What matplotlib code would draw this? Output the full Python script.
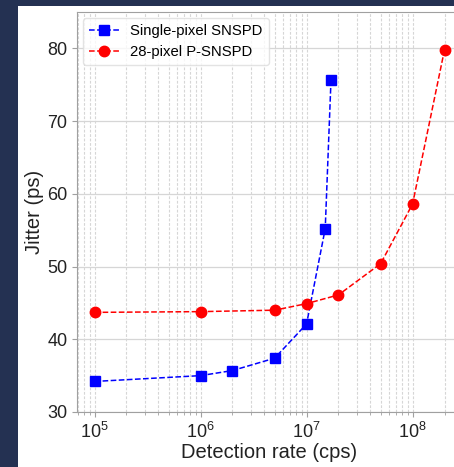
import matplotlib
matplotlib.use('Agg')
import matplotlib.pyplot as plt
from matplotlib.patches import Rectangle
from matplotlib.ticker import LogLocator

plt.rcParams['font.family'] = ['Liberation Sans', 'DejaVu Sans']
plt.rcParams['mathtext.fontset'] = 'custom'
plt.rcParams['mathtext.rm'] = 'Liberation Sans'
plt.rcParams['mathtext.it'] = 'Liberation Sans'

# 单像素 SNSPD
single_rate = [1e5, 1e6, 2e6, 5e6, 1e7, 1.5e7, 1.7e7]
single_jitter = [34.2, 35.0, 35.7, 37.4, 42.1, 55.2, 75.6]

# 28 像素 P-SNSPD
multi_rate = [1e5, 1e6, 5e6, 1e7, 2e7, 5e7, 1e8, 2e8]
multi_jitter = [43.7, 43.8, 44.0, 44.9, 46.1, 50.4, 58.6, 79.8]

fig = plt.figure(figsize=(4.54, 4.67), dpi=100, facecolor='#243152')
# 白色底板
fig.patches.append(Rectangle((18 / 454, 0), 1, (467 - 6) / 467,
                             transform=fig.transFigure, facecolor='white',
                             edgecolor='none', zorder=-1))

ax = fig.add_axes([77 / 454, 55 / 467, (462 - 77) / 454, (412 - 12) / 467])
ax.set_zorder(1)
ax.set_facecolor('white')

ax.plot(single_rate, single_jitter, 's--', color='blue', markersize=7.5,
        linewidth=1.1, label='Single-pixel SNSPD', zorder=3)
ax.plot(multi_rate, multi_jitter, 'o--', color='red', markersize=7.5,
        linewidth=1.1, label='28-pixel P-SNSPD', zorder=3)

ax.set_xscale('log')
ax.set_ylim(30, 85)
ax.set_yticks([30, 40, 50, 60, 70, 80])
ax.xaxis.set_minor_locator(LogLocator(base=10, subs=range(2, 10), numticks=20))

ax.grid(True, axis='y', which='major', color='#d6d6d6', linewidth=0.9)
ax.grid(True, axis='x', which='both', color='#d6d6d6', linewidth=0.8,
        dashes=(2.5, 1.5))
ax.set_axisbelow(True)

for s in ax.spines.values():
    s.set_color('#a0a0a0')
ax.tick_params(colors='#a0a0a0', labelcolor='#222222', labelsize=13)
ax.tick_params(which='minor', colors='#a0a0a0')

ax.set_xlabel('Detection rate (cps)', fontsize=14.5, color='#222222', labelpad=1)
ax.set_ylabel('Jitter (ps)', fontsize=14.5, color='#222222', labelpad=2)

ax.legend(loc='upper left', fontsize=10.7, frameon=True, edgecolor='#dddddd',
          fancybox=True, borderaxespad=0.4, handlelength=2.0)

fig.savefig('out.png', dpi=100, facecolor=fig.get_facecolor())
